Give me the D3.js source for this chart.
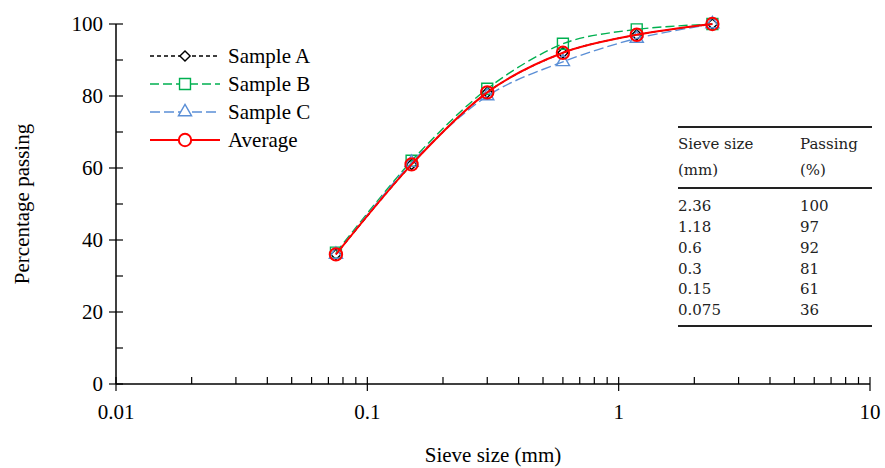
<!DOCTYPE html>
<html>
<head>
<meta charset="utf-8">
<script src="https://cdn.jsdelivr.net/npm/d3@7"></script>
<style>
  body { margin: 0; background: #fff; }
</style>
</head>
<body>
<div id="chart"></div>
<script>
// sieve sizes (mm) and passing (%) per series
var sieveSizes = [0.075, 0.15, 0.3, 0.6, 1.18, 2.36];
var sampleA = [36, 61, 81, 92, 97, 100];
var sampleB = [36.5, 62, 82, 94.5, 98.5, 100];
var sampleC = [36, 61.5, 80, 89.5, 96, 100];
var average = [36, 61, 81, 92, 97, 100];

var yTicks = [0, 20, 40, 60, 80, 100];
var xTicks = [0.01, 0.1, 1, 10];

var tableHeader = [["Sieve size", "(mm)"], ["Passing", "(%)"]];
var tableSizes = ["2.36", "1.18", "0.6", "0.3", "0.15", "0.075"];
var tablePassing = ["100", "97", "92", "81", "61", "36"];

var serif = "Liberation Serif, serif";
var tableFont = "DejaVu Serif, serif";

var width = 885, height = 468;
var margin = {top: 24, right: 15, bottom: 84, left: 116};

var svg = d3.select("#chart").append("svg")
    .attr("width", width)
    .attr("height", height)
    .attr("font-family", serif);

var x = d3.scaleLog().domain([0.01, 10]).range([margin.left, width - margin.right]);
var y = d3.scaleLinear().domain([0, 100]).range([height - margin.bottom, margin.top]);

//series definitions - styles only, values come from the arrays above
var series = [
    {name: "Sample A", values: sampleA, color: "#000", dash: "4,3", width: 1.4, marker: "diamond"},
    {name: "Sample B", values: sampleB, color: "#00b050", dash: "9,4", width: 1.4, marker: "square"},
    {name: "Sample C", values: sampleC, color: "#5b8fd6", dash: "10,4", width: 1.4, marker: "triangle"},
    {name: "Average", values: average, color: "#ff0000", dash: null, width: 2, marker: "circle"}
];

var symbolFor = {
    diamond: d3.symbol().type(d3.symbolSquare).size(52),
    square: d3.symbol().type(d3.symbolSquare).size(120),
    triangle: d3.symbol().type(d3.symbolTriangle).size(75),
    circle: d3.symbol().type(d3.symbolCircle).size(120)
};

// axes
var yAxis = svg.append("g");
yAxis.append("line")
    .attr("x1", x(0.01)).attr("x2", x(0.01))
    .attr("y1", y(0)).attr("y2", y(100))
    .attr("stroke", "#000").attr("stroke-width", 1.5);
yAxis.selectAll(".ymaj").data(yTicks).enter().append("line")
    .attr("x1", x(0.01) - 7).attr("x2", x(0.01) + 7)
    .attr("y1", function(d) { return y(d); }).attr("y2", function(d) { return y(d); })
    .attr("stroke", "#000").attr("stroke-width", 1.2);
yAxis.selectAll(".ymin").data(d3.range(10, 100, 20)).enter().append("line")
    .attr("x1", x(0.01)).attr("x2", x(0.01) + 7)
    .attr("y1", function(d) { return y(d); }).attr("y2", function(d) { return y(d); })
    .attr("stroke", "#000").attr("stroke-width", 1.2);
yAxis.selectAll(".ylab").data(yTicks).enter().append("text")
    .attr("x", x(0.01) - 13)
    .attr("y", function(d) { return y(d); })
    .attr("dy", "0.35em")
    .attr("text-anchor", "end")
    .attr("font-size", 21)
    .text(function(d) { return d; });

var xAxis = svg.append("g");
var minorX = [];
[0.01, 0.1, 1].forEach(function(dec) {
    for (var i = 2; i <= 9; i++) minorX.push(dec * i);
});
xAxis.append("line")
    .attr("x1", x(0.01)).attr("x2", x(10))
    .attr("y1", y(0)).attr("y2", y(0))
    .attr("stroke", "#000").attr("stroke-width", 1.5);
xAxis.selectAll(".xmaj").data(xTicks).enter().append("line")
    .attr("x1", function(d) { return x(d); }).attr("x2", function(d) { return x(d); })
    .attr("y1", y(0) - 7).attr("y2", y(0) + 7)
    .attr("stroke", "#000").attr("stroke-width", 1.2);
xAxis.selectAll(".xmin").data(minorX).enter().append("line")
    .attr("x1", function(d) { return x(d); }).attr("x2", function(d) { return x(d); })
    .attr("y1", y(0) - 7).attr("y2", y(0))
    .attr("stroke", "#000").attr("stroke-width", 1.2);
xAxis.selectAll(".xlab").data(xTicks).enter().append("text")
    .attr("x", function(d) { return x(d); })
    .attr("y", y(0) + 35)
    .attr("text-anchor", "middle")
    .attr("font-size", 21)
    .text(function(d) { return d; });

// axis titles
svg.append("text")
    .attr("x", (x(0.01) + x(10)) / 2)
    .attr("y", 462)
    .attr("text-anchor", "middle")
    .attr("font-size", 21)
    .text("Sieve size (mm)");
svg.append("text")
    .attr("transform", "translate(29," + ((y(0) + y(100)) / 2) + ") rotate(-90)")
    .attr("text-anchor", "middle")
    .attr("font-size", 21)
    .text("Percentage passing");

// series lines and markers
var line = d3.line()
    .x(function(d) { return x(d[0]); })
    .y(function(d) { return y(d[1]); })
    .curve(d3.curveCardinal.tension(0.1));

var seriesG = svg.append("g").attr("class", "vis-series");

series.forEach(function(s) {
    var pts = sieveSizes.map(function(v, i) { return [v, s.values[i]]; });
    var g = seriesG.append("g");
    g.append("path")
        .datum(pts)
        .attr("d", line)
        .attr("fill", "none")
        .attr("stroke", s.color)
        .attr("stroke-width", s.width)
        .attr("stroke-dasharray", s.dash);
    g.selectAll("path.m").data(pts).enter().append("path")
        .attr("class", "m")
        .attr("d", symbolFor[s.marker])
        .attr("transform", function(d) {
            return "translate(" + x(d[0]) + "," + y(d[1]) + ")" + (s.marker === "diamond" ? " rotate(45)" : "");
        })
        .attr("fill", "none")
        .attr("stroke", s.color)
        .attr("stroke-width", s.marker === "circle" ? 2 : 1.4);
});

// legend
var legend = svg.append("g");
series.forEach(function(s, i) {
    var ly = 56 + i * 28;
    legend.append("line")
        .attr("x1", 150).attr("x2", 220)
        .attr("y1", ly).attr("y2", ly)
        .attr("stroke", s.color)
        .attr("stroke-width", s.width)
        .attr("stroke-dasharray", s.dash);
    legend.append("path")
        .attr("d", symbolFor[s.marker])
        .attr("transform", "translate(185," + ly + ")" + (s.marker === "diamond" ? " rotate(45)" : ""))
        .attr("fill", "#fff")
        .attr("stroke", s.color)
        .attr("stroke-width", s.marker === "circle" ? 2 : 1.4);
    legend.append("text")
        .attr("x", 228).attr("y", ly)
        .attr("dy", "0.35em")
        .attr("font-size", 21)
        .text(s.name);
});

// inset table
var table = svg.append("g")
    .attr("font-family", tableFont)
    .attr("font-size", 15)
    .attr("fill", "#222");
var tx1 = 678, tx2 = 872, col2 = 800;
[127, 188, 326].forEach(function(ly) {
    table.append("line").attr("x1", tx1).attr("x2", tx2).attr("y1", ly).attr("y2", ly)
        .attr("stroke", "#222").attr("stroke-width", 2);
});
tableHeader.forEach(function(h, c) {
    h.forEach(function(t, r) {
        table.append("text")
            .attr("x", c === 0 ? tx1 : col2)
            .attr("y", 144 + r * 26)
            .attr("dy", "0.35em")
            .text(t);
    });
});
tableSizes.forEach(function(t, i) {
    var ry = 206 + i * 20.8;
    table.append("text").attr("x", tx1).attr("y", ry).attr("dy", "0.35em").text(t);
    table.append("text").attr("x", col2).attr("y", ry).attr("dy", "0.35em").text(tablePassing[i]);
});
</script>
</body>
</html>
